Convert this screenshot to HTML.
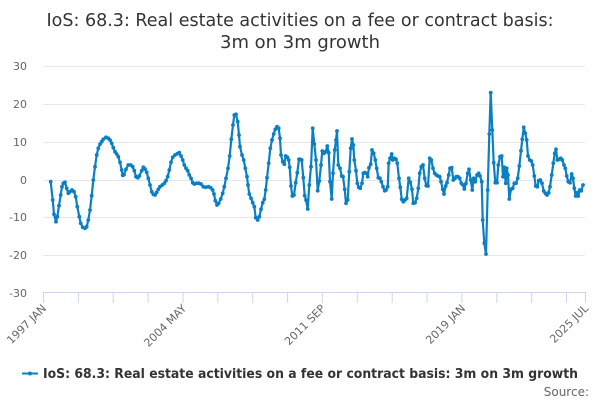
<!DOCTYPE html>
<html>
<head>
<meta charset="utf-8">
<style>
html,body{margin:0;padding:0;background:#fff;}
body{width:600px;height:400px;overflow:hidden;}
svg{display:block;font-family:"DejaVu Sans","Liberation Sans",sans-serif;}
</style>
</head>
<body>
<svg width="600" height="400" viewBox="0 0 600 400" xmlns="http://www.w3.org/2000/svg">
<defs>
<marker id="dot" markerUnits="userSpaceOnUse" markerWidth="5" markerHeight="5" refX="2.5" refY="2.5">
<circle cx="2.5" cy="2.5" r="1.9" fill="#0b7fc4"/>
</marker>
</defs>
<!-- title -->
<text x="300" y="26" text-anchor="middle" font-size="18" fill="#333" textLength="507" lengthAdjust="spacingAndGlyphs">IoS: 68.3: Real estate activities on a fee or contract basis:</text>
<text x="300" y="48" text-anchor="middle" font-size="18" fill="#333" textLength="160" lengthAdjust="spacingAndGlyphs">3m on 3m growth</text>

<!-- gridlines -->
<g stroke="#e6e6e6" stroke-width="1">
<line x1="43" y1="66.5" x2="585" y2="66.5"/>
<line x1="43" y1="104.5" x2="585" y2="104.5"/>
<line x1="43" y1="142.5" x2="585" y2="142.5"/>
<line x1="43" y1="180.5" x2="585" y2="180.5"/>
<line x1="43" y1="217.5" x2="585" y2="217.5"/>
<line x1="43" y1="255.5" x2="585" y2="255.5"/>
</g>
<!-- x axis -->
<g stroke="#ccd6eb" stroke-width="1">
<line x1="43" y1="292.5" x2="586" y2="292.5"/>
<line x1="43.5" y1="293" x2="43.5" y2="303"/>
<line x1="78.4" y1="293" x2="78.4" y2="303"/>
<line x1="113.2" y1="293" x2="113.2" y2="303"/>
<line x1="148.1" y1="293" x2="148.1" y2="303"/>
<line x1="183" y1="293" x2="183" y2="303"/>
<line x1="217.8" y1="293" x2="217.8" y2="303"/>
<line x1="252.7" y1="293" x2="252.7" y2="303"/>
<line x1="287.6" y1="293" x2="287.6" y2="303"/>
<line x1="322.4" y1="293" x2="322.4" y2="303"/>
<line x1="357.3" y1="293" x2="357.3" y2="303"/>
<line x1="392.2" y1="293" x2="392.2" y2="303"/>
<line x1="427" y1="293" x2="427" y2="303"/>
<line x1="461.9" y1="293" x2="461.9" y2="303"/>
<line x1="496.8" y1="293" x2="496.8" y2="303"/>
<line x1="531.6" y1="293" x2="531.6" y2="303"/>
<line x1="566.5" y1="293" x2="566.5" y2="303"/>
<line x1="585.5" y1="293" x2="585.5" y2="303"/>
</g>

<!-- y labels -->
<g font-size="11" fill="#666" text-anchor="end">
<text x="27" y="70">30</text>
<text x="27" y="108">20</text>
<text x="27" y="146">10</text>
<text x="27" y="184">0</text>
<text x="27" y="221">-10</text>
<text x="27" y="259">-20</text>
<text x="27" y="297">-30</text>
</g>

<!-- x labels -->
<g font-size="11" fill="#666" text-anchor="end">
<text transform="translate(47,309) rotate(-45)">1997 JAN</text>
<text transform="translate(187,309) rotate(-45)">2004 MAY</text>
<text transform="translate(326,309) rotate(-45)">2011 SEP</text>
<text transform="translate(466,309) rotate(-45)">2019 JAN</text>
<text transform="translate(589,309) rotate(-45)">2025 JUL</text>
</g>

<!-- series -->
<polyline fill="none" stroke="#0b7fc4" stroke-width="2.2" stroke-linejoin="round" stroke-linecap="round"
marker-start="url(#dot)" marker-mid="url(#dot)" marker-end="url(#dot)"
points="50.7,181.7 52.7,200 54,214.3 56,221.7 57.3,216.7 59,205.7 60.7,195 62,186.7 63.3,183.3 65,182.3 66.7,188.3 68.3,193.3 70,191.7 72,190 74,191.7 75.7,196.7 77.3,206.7 79.3,216.7 80.7,223.3 82.7,227.3 85,228.3 86.7,226.7 88.3,220 90,210 91.7,195.7 93.3,180 95,166.7 96.7,155 98.3,148.3 100,144.3 101.7,141.7 103.3,139.3 106,137.3 108.3,138.3 110,140 111.7,143.3 113.3,147.7 115,151.7 116.7,154 118.3,156.7 120,162.3 121.7,170 122.7,175.3 124,174.7 126,169.3 128.3,165 130.7,165 132.7,166.7 134.3,170.7 136,176.7 137.7,177.7 139.3,176 141.7,170.7 143.3,167.3 145,169 146.7,172.3 148.3,178.3 150,185 151.7,191.7 153.3,194.3 155,195 156.7,192.3 158.3,189.3 160,186.7 162.3,185 164.3,183.3 166,180.7 167.7,176.7 169.3,170 171,162.3 172.7,157.3 175,155 177.3,153.7 179.3,152.7 181,156 182.7,160 184.3,165 186,168.3 187.7,170.7 189.3,175 191,178.3 192.7,182.7 194.3,184 196.7,183.3 199,183.3 201,184 203.3,186.7 205.7,187.3 208.3,186.7 210.7,187.7 212.7,190 214,194 215.3,200.7 217,205 218.7,203.3 220.7,199 222.7,193.3 224.3,186.7 226,178.3 228,168.3 229.7,156 231.3,139.3 233,125 234.3,115 236,114.3 237.7,121.7 239,135 240,146.7 242,155 243.7,160 245.3,168.3 247,176.7 248,185 249.3,194 251,198.3 252.7,202.7 254.3,206.7 255.7,217.7 257.7,220 259.3,216.7 261,209.3 262.7,202.7 264.3,199.3 265.7,190 267,177.7 268.7,163.3 270.3,148.3 272,140 273.7,134 275.3,129.3 277,126.7 278.7,128.3 280,138.3 281,155 282.7,161.7 284.3,164.3 285.7,156 287.3,157.3 288.7,160 289.7,167.3 291,186 292.3,196 294,195 295.7,182.7 297.3,172.7 299,159.3 300,159.3 301.7,160 303.3,177.7 304.7,195.7 306,200 307.7,209 309.3,185 311,166.7 312.7,128.3 314.3,144 316,160 317.7,190.7 319.3,181 321,165 322.3,151 324,153.3 325.7,151.7 327.3,146 328.7,152.7 330,181.7 331.7,199 333,173.3 334.7,150 336,140 337,131 338.3,165 340,168.3 341.7,176 343,176.7 344.7,189.3 346,203.3 347.7,200 349.3,171.7 350.7,148.3 352,139 353.3,145 354.3,160 356,170.7 357.3,183.3 358.7,187.3 360.3,188.3 362,183.3 363.3,173.3 364.7,172.7 366.3,173.3 367.7,176.7 369,167.7 370.7,164.3 372,150 373.7,153.3 375.3,160 376.7,168.3 378.3,177.7 380,178.3 381.3,181.7 383,186.7 384.7,190.7 386,190 387.7,186.7 388.7,163.3 390,158.3 391.7,154 392.7,160 394.3,158.3 396,159.3 397.3,163.3 399,178.3 400.3,187.3 401.7,199.3 403.3,201.7 405,200 406.7,198.3 408.7,178.3 410.3,182.3 412,189.3 413.3,203.3 415,202.7 416.7,198.3 418.3,188.3 419.7,173.3 421.3,166.7 423,165 424.7,178.3 426.3,185.7 428,186 429.7,158.3 431.3,160 433,168.3 434.7,173.3 436.3,175 438,176 439.7,176.7 441,181.7 442.7,189.3 444,194 445.7,186 447,182.7 448.7,175 450,168.3 451.7,167.7 453.3,180 455,178.3 456.3,176.7 458,176.7 459.7,178.3 461.3,183.3 463,185 464.3,189 466,183.3 467.7,173.3 469,169.3 470.7,180 472.3,190 473.7,178.3 475.3,181.7 477,175 478.7,173.3 480,176 481.7,181.7 482.7,220 484.3,243.3 486,254 487.7,190 489.3,134 490.7,92.7 492.3,130 493.7,162.7 495.3,182.7 497,182.7 498.3,165 500,156.7 501.7,156 503,176.7 504.3,167.3 505.7,183.3 506.7,168.3 508,175 509.3,199 511,189.3 512.7,188.3 514.3,183.3 516,183.3 517.7,178.3 519.3,166 521,150.7 522.3,139.3 523.7,127.3 525.3,133.3 526.7,140 528,156 529.7,160 531.3,161 532.7,165 534.3,176 535.7,186 537.3,186.7 538.7,180.7 540.3,180 542,183.3 543.7,191 545.3,193.3 547,195 548.7,192.7 550,186.7 551.7,175 553.3,163.3 554.7,153.3 556,149.3 557.3,160 559,159.3 560.7,158.3 562.3,160 564,165 565.3,168.3 566.7,176 568.3,181.7 570,182.7 571.7,174 573,178.3 574.3,188.3 575.7,196 577,192.7 578.3,196 579.7,190 581.3,190.7 583,185"/>

<!-- legend -->
<line x1="22" y1="373.5" x2="38" y2="373.5" stroke="#0b7fc4" stroke-width="2"/>
<circle cx="30" cy="373.5" r="2" fill="#0b7fc4"/>
<text x="43" y="378" font-size="13" font-weight="bold" fill="#333" textLength="535" lengthAdjust="spacingAndGlyphs">IoS: 68.3: Real estate activities on a fee or contract basis: 3m on 3m growth</text>

<!-- source -->
<text x="589" y="396" text-anchor="end" font-size="12" fill="#666">Source:</text>
</svg>
</body>
</html>
